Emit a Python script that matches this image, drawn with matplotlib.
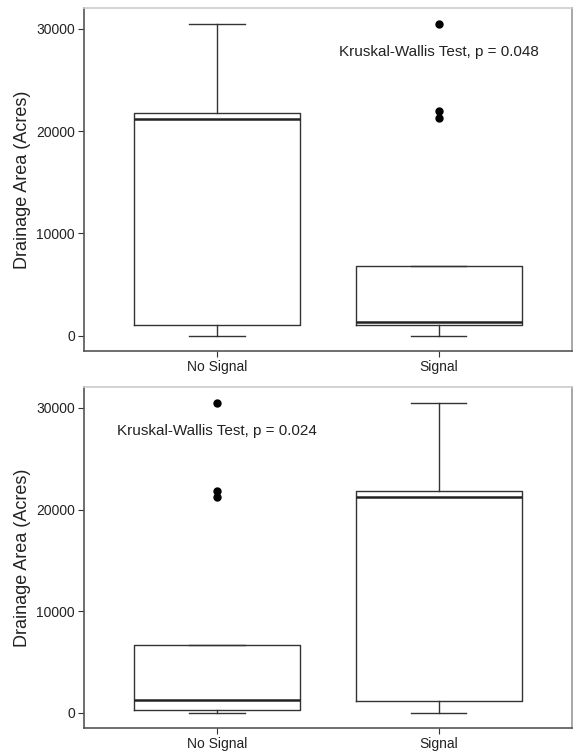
import matplotlib.pyplot as plt

plt.rcParams['font.family'] = ['Liberation Sans', 'DejaVu Sans']

groups = ["No Signal", "Signal"]

# box summaries for the upper panel
top_whislo = [0, 0]
top_q1 = [1075, 1075]
top_med = [21235, 1340]
top_q3 = [21820, 6770]
top_whishi = [30490, 6770]
top_fliers = [[], [30490, 21950, 21250]]
top_label = "Kruskal-Wallis Test, p = 0.048"

# box summaries for the lower panel
bot_whislo = [0, 0]
bot_q1 = [260, 1140]
bot_med = [1306, 21240]
bot_q3 = [6710, 21860]
bot_whishi = [6710, 30500]
bot_fliers = [[30440, 21860, 21210], []]
bot_label = "Kruskal-Wallis Test, p = 0.024"

yticks = [0, 10000, 20000, 30000]


def draw_panel(ax, whislo, q1, med, q3, whishi, fliers, label, label_x):
    stats = []
    for i, g in enumerate(groups):
        stats.append(dict(label=g, whislo=whislo[i], q1=q1[i], med=med[i],
                          q3=q3[i], whishi=whishi[i], fliers=fliers[i]))
    ax.bxp(stats, positions=[1, 2], widths=0.75, capwidths=0.25,
           boxprops=dict(color='#333333', linewidth=1.0),
           medianprops=dict(color='#222222', linewidth=1.8),
           whiskerprops=dict(color='#333333', linewidth=1.0),
           capprops=dict(color='#333333', linewidth=1.0),
           flierprops=dict(marker='o', markerfacecolor='black',
                           markeredgecolor='black', markersize=5))
    # 5% padding on each side of the data range
    ax.set_xlim(0.4, 2.6)
    ax.set_ylim(-1525, 32025)
    ax.set_yticks(yticks)
    ax.set_yticklabels([str(v) for v in yticks])
    ax.set_xticks([1, 2])
    ax.set_xticklabels(groups)
    ax.tick_params(labelsize=10, length=4, width=0.8, colors='#333333',
                   labelcolor='#222222', pad=2.5)
    ax.set_ylabel("Drainage Area (Acres)", fontsize=13, color='#222222',
                  labelpad=4)
    ax.spines['left'].set_color('#555555')
    ax.spines['bottom'].set_color('#555555')
    ax.spines['top'].set_color('#cccccc')
    ax.spines['right'].set_color('#999999')
    for s in ax.spines.values():
        s.set_linewidth(1.2)
    ax.text(label_x, 27700, label, ha='center', va='center', fontsize=11,
            color='#222222')


fig = plt.figure(figsize=(5.78, 7.52), dpi=100)
ax1 = fig.add_axes([0.1455, 0.533, 0.8435, 0.456])
ax2 = fig.add_axes([0.1455, 0.0315, 0.8435, 0.4535])

draw_panel(ax1, top_whislo, top_q1, top_med, top_q3, top_whishi,
           top_fliers, top_label, 2)
draw_panel(ax2, bot_whislo, bot_q1, bot_med, bot_q3, bot_whishi,
           bot_fliers, bot_label, 1)

fig.savefig("out.png", dpi=100)
